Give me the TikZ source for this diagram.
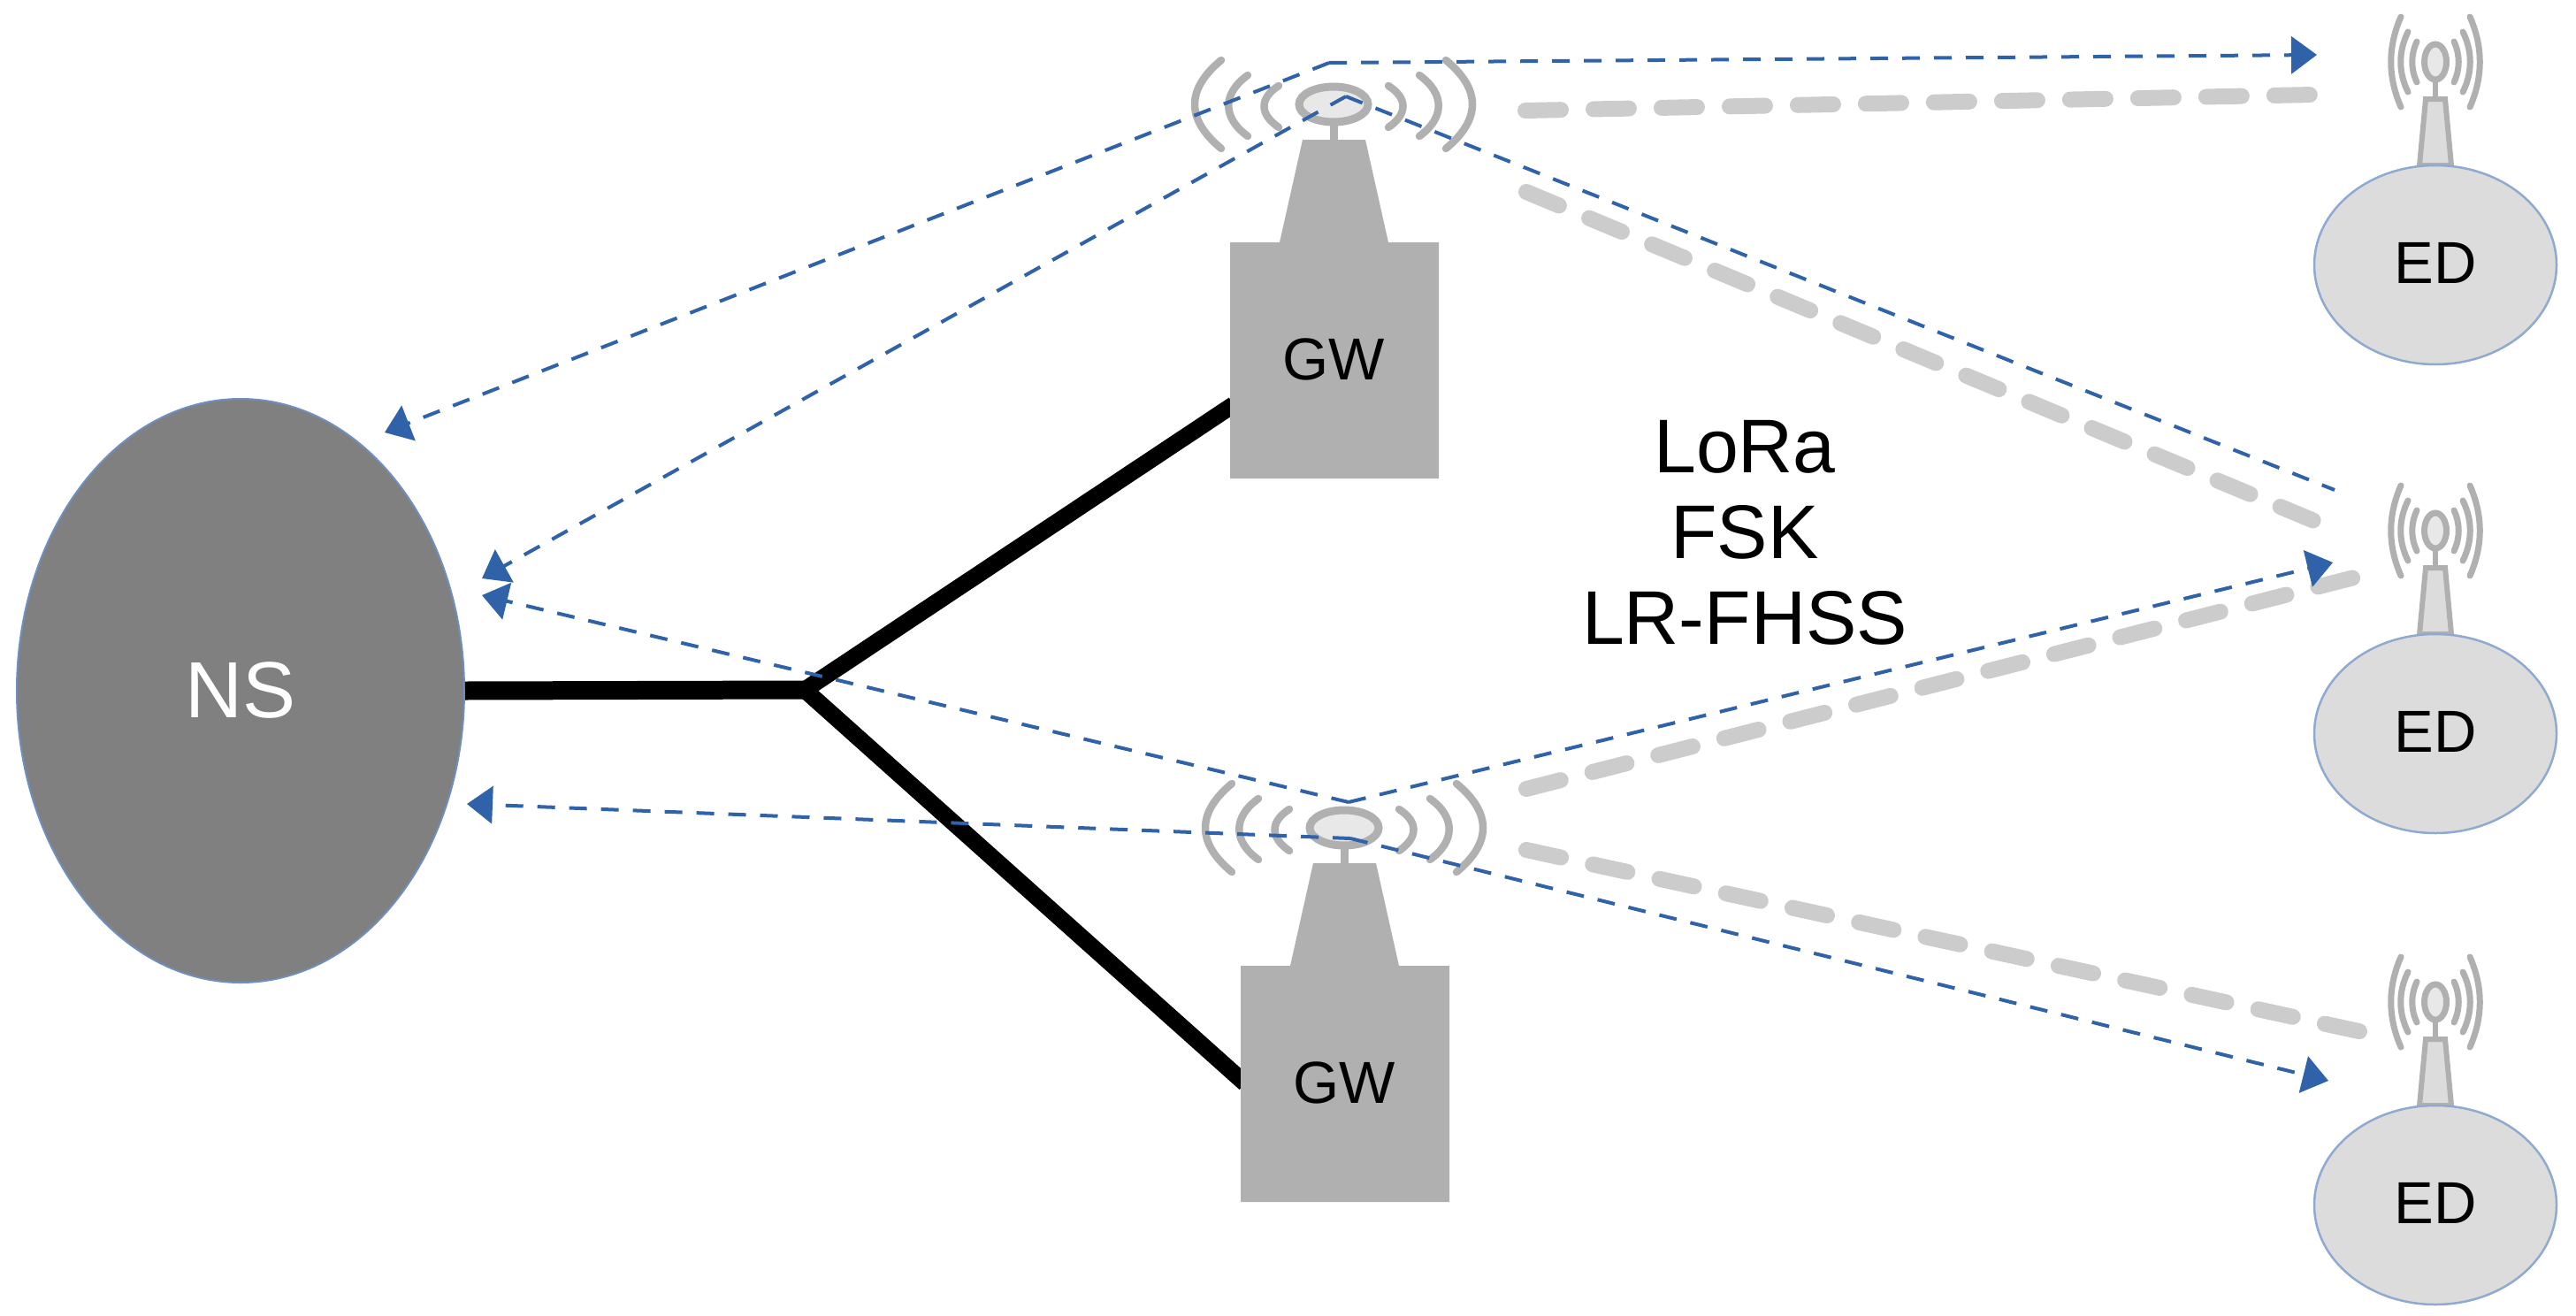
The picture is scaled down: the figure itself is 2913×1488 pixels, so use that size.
\documentclass[tikz,border=0pt]{standalone}
\usepackage{fontspec}
\setmainfont{Liberation Sans}
\usetikzlibrary{arrows.meta,shapes.geometric}
\definecolor{devgray}{HTML}{B0B0B0}
\definecolor{dishfill}{HTML}{E8E8E8}
\definecolor{edfill}{HTML}{DCDCDC}
\definecolor{edline}{HTML}{8FAAD0}
\definecolor{nsfill}{HTML}{808080}
\definecolor{nsline}{HTML}{6F8FBF}
\definecolor{msgblue}{HTML}{2F62A8}
\definecolor{lanegray}{HTML}{CCCCCC}
\tikzset{
  x=1pt,y=-1pt,
  txt/.style={font=\fontsize{67}{80}\selectfont,text=black,inner sep=0pt,align=center},
  edge/.style={line width=2.5pt,draw=edline,fill=edfill},
  wave/.style={line width=8.5pt,draw=devgray,line cap=round},
  thinwave/.style={line width=7pt,draw=devgray,line cap=round},
  backhaul/.style={line width=19pt,draw=black},
  msg/.style={line width=4pt,draw=msgblue,dash pattern=on 20pt off 16pt},
  msgtip/.style={msg,-{Triangle[length=29pt,width=42pt,color=msgblue]}},
  lane/.style={line width=18pt,draw=lanegray,line cap=round,dash pattern=on 40pt off 37pt},
}
% gateway: #1 name, #2 x, #3 y (dish centre)
\newcommand{\gwicon}[3]{
  \begin{scope}[shift={(#2,#3)}]
    \fill[devgray] (-4,20) rectangle (5,42);
    \fill[devgray] (-35,40) -- (36,40) -- (62,156) -- (119,156) -- (119,423) -- (-117,423) -- (-117,156) -- (-61,156) -- cycle;
    \draw[line width=9pt,draw=devgray,fill=dishfill] (0,0) ellipse (39 and 20);
    \foreach \s in {1,-1}{
      \draw[wave] (\s*62,-21) .. controls (\s*84,-7) and (\s*84,11) .. (\s*62,26);
      \draw[wave] (\s*97,-33) .. controls (\s*126,-12) and (\s*126,15) .. (\s*97,36);
      \draw[wave] (\s*127,-50) .. controls (\s*167,-17) and (\s*167,17) .. (\s*127,50);
    }
    \node[txt] (#1) at (0,288) {GW};
  \end{scope}
}
% end device: #1 name, #2 y offset
\newcommand{\edicon}[2]{
  \begin{scope}[shift={(2754,#2)}]
    \draw[line width=6pt,draw=devgray,fill=edfill] (-18,187) -- (-11,112) -- (11,112) -- (18,187) -- cycle;
    \fill[devgray] (-3,90) rectangle (3,114);
    \draw[line width=7pt,draw=devgray,fill=dishfill] (0,70) ellipse (12.5 and 20);
    \foreach \s in {1,-1}{
      \draw[thinwave] (\s*21,47) .. controls (\s*28,62) and (\s*28,78) .. (\s*21,93);
      \draw[thinwave] (\s*31,36) .. controls (\s*42,58) and (\s*42,82) .. (\s*31,104);
      \draw[thinwave] (\s*39,19) .. controls (\s*54,53) and (\s*54,87) .. (\s*39,121);
    }
    \node[edge,ellipse,minimum width=274pt,minimum height=225pt,inner sep=0pt,
      font=\fontsize{67}{80}\selectfont,text=black] (#1) at (0,299.5) {\raisebox{4pt}{ED}};
  \end{scope}
}
\begin{document}
\begin{tikzpicture}
\useasboundingbox (0,0) rectangle (2913,1488);
\coordinate (junction) at (910,780);
\coordinate (gwAw) at (1395,457.5);
\coordinate (gwBw) at (1408,1225);
% backhaul
\node[ellipse,minimum width=506pt,minimum height=660pt,inner sep=0pt,fill=nsfill,draw=nsline,line width=2pt,
  text=white,font=\fontsize{90}{100}\selectfont] (ns) at (272,781) {NS};
\draw[backhaul,line width=21pt] (ns.east) -- (junction);
\draw[backhaul,miter limit=4] (gwAw) -- (junction) -- (gwBw);
% devices
\gwicon{gwA}{1508}{118}
\gwicon{gwB}{1520}{936}
\edicon{edA}{0}
\edicon{edB}{530}
\edicon{edC}{1063}
% radio lanes
\coordinate (la1) at (1725,125); \coordinate (la2) at (2617,107);
\coordinate (lb1) at (1726,217); \coordinate (lb2) at (2617,589);
\coordinate (lc1) at (1726,892); \coordinate (lc2) at (2662,653);
\coordinate (ld1) at (1726,961); \coordinate (ld2) at (2672,1167);
\draw[lane] (la1) -- (la2);
\draw[lane] (lb1) -- (lb2);
\draw[lane] (lc1) -- (lc2);
\draw[lane] (ld1) -- (ld2);
% messages
\coordinate (topA) at (1503,71);
\coordinate (dishA) at (1522,109);
\coordinate (topB) at (1525,907);
\coordinate (dishB) at (1527,948);
\coordinate (nsT1) at (435,489);
\coordinate (nsT2) at (545,654);
\coordinate (nsT3) at (545,673);
\coordinate (nsT4) at (528,909);
\coordinate (edT1) at (2620,62);
\coordinate (edE2) at (2640,554);
\coordinate (edT2) at (2638,636);
\coordinate (edT3) at (2633,1222);
\draw[msgtip] (topA) -- (edT1);
\draw[msgtip] (topA) -- (nsT1);
\draw[msgtip] (dishA) -- (nsT2);
\draw[msg] (dishA) -- (edE2);
\draw[msgtip] (topB) -- (nsT3);
\draw[msgtip] (topB) -- (edT2);
\draw[msgtip] (dishB) -- (nsT4);
\draw[msgtip] (dishB) -- (edT3);
% label
\node[txt,font=\fontsize{86}{97}\selectfont] (modes) at (1973,602) {LoRa\\FSK\\LR-FHSS};
\end{tikzpicture}
\end{document}
